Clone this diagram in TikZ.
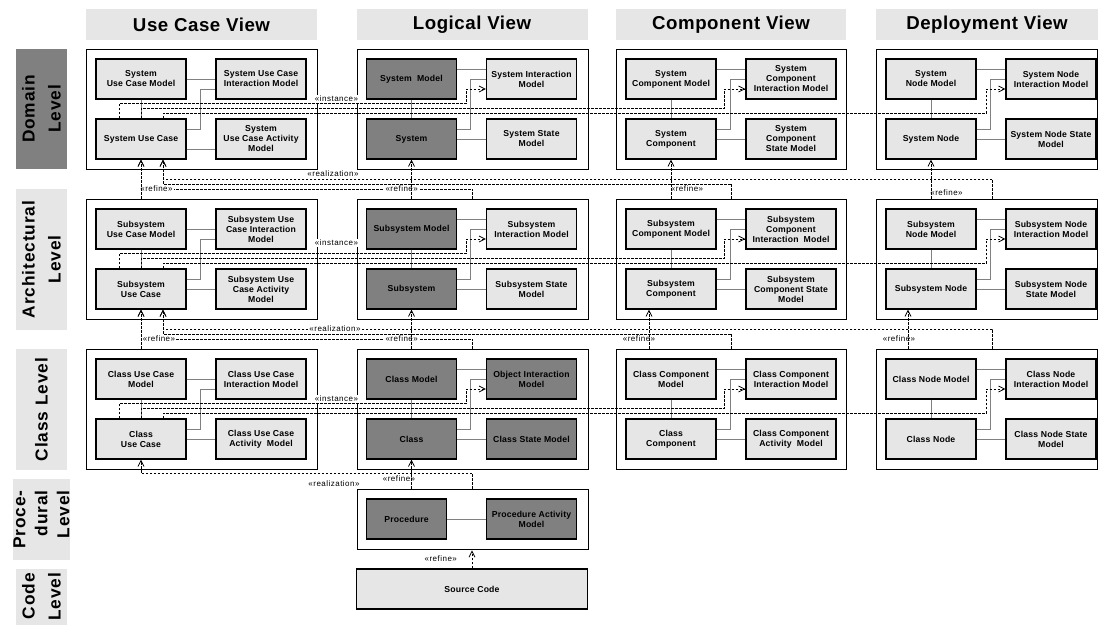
\documentclass[tikz,border=0pt]{standalone}
\usepackage{fontspec}
\setmainfont{Liberation Sans}
\newfontfamily\boxfont[LetterSpace=2]{Liberation Sans}
\newfontfamily\tagfont[LetterSpace=6]{Liberation Sans}
\newfontfamily\headfont[LetterSpace=3]{Liberation Sans}
\newfontfamily\levelfont[LetterSpace=5]{Liberation Sans}
\usetikzlibrary{arrows.meta,calc}

\definecolor{lightbox}{HTML}{E6E6E6}
\definecolor{darkbox}{HTML}{808080}
\definecolor{linkgray}{HTML}{808080}

\begin{document}
\begin{tikzpicture}[x=0.75pt, y=-0.75pt, >={Straight Barb[length=4.5pt,width=4.5pt]},
    head/.style={fill=lightbox, minimum height=23.25pt, inner sep=0pt, font=\headfont\bfseries\fontsize{14}{16}\selectfont},
    level/.style={rotate=90, fill=lightbox, minimum height=38.25pt, inner sep=0pt, align=center, font=\levelfont\bfseries\fontsize{13}{19.5}\selectfont},
    frame/.style={draw, line width=1pt, fill=white, anchor=north west, minimum height=90pt, inner sep=0pt},
    box/.style={draw, line width=0.9pt, fill=lightbox, minimum width=67.5pt, minimum height=30pt, inner sep=1pt, align=center, font=\boxfont\bfseries\fontsize{6.5}{7.5}\selectfont},
    dbox/.style={box, fill=darkbox},
    link/.style={draw=linkgray, line width=0.75pt},
    dep/.style={draw, line width=0.6pt, dash pattern=on 2pt off 1pt},
    tag/.style={fill=white, inner sep=1pt, font=\tagfont\fontsize{6}{7}\selectfont}]

    \useasboundingbox (0,0) rectangle (1098,625);
    \fill[white] (0,0) rectangle (1098,625);

    % View headers
    \node[head, minimum width=173.25pt] (hd-uc) at (201.5,24.5) {Use Case View};
    \node[head, minimum width=173.25pt] (hd-lg) at (472,24.5) {Logical View};
    \node[head, minimum width=172.5pt] (hd-cp) at (731,24.5) {Component View};
    \node[head, minimum width=166.5pt] (hd-dp) at (987,24.5) {Deployment View};

    % Level labels
    \node[level, fill=darkbox, minimum width=90pt] (lv-d) at (41.5,109) {Domain\\Level};
    \node[level, minimum width=105.75pt] (lv-a) at (41.5,259.5) {Architectural\\Level};
    \node[level, minimum width=90.75pt] (lv-c) at (41.5,409.5) {Class Level};
    \node[level, minimum width=60.75pt, align=right, font=\levelfont\bfseries\fontsize{13}{16.5}\selectfont] (lv-p) at (41.5,519.5) {Proce-\\dural\\Level};
    \node[level, minimum width=42pt, align=right] (lv-s) at (41.5,597) {Code\\Level};

    % Frames
    \foreach \f/\X/\Y/\W in {ucd/86/49/173.25, lgd/356.5/49/173.25, cpd/616/49/172.5, dpd/876/49/165.75,
                             uca/86/199/173.25, lga/356.5/199/173.25, cpa/616/199/172.5, dpa/876/199/165.75,
                             ucc/86/349/173.25, lgc/356.5/349/173.25, cpc/616/349/172.5, dpc/876/349/165.75}
        \node[frame, minimum width=\W pt] (\f) at (\X,\Y) {};
    \node[frame, minimum width=173.25pt, minimum height=45pt] (lgp) at (356.5,489) {};

    % Domain level
    \node[box] (ucd-tl) at (141,79) {System\\Use Case Model};
    \node[box] (ucd-tr) at (261,79) {System Use Case\\Interaction Model};
    \node[box] (ucd-bl) at (141,139) {System Use Case};
    \node[box] (ucd-br) at (261,139) {System\\Use Case Activity\\Model};
    \node[dbox] (lgd-tl) at (411.5,79) {System\ \ Model};
    \node[box] (lgd-tr) at (531.5,79) {System Interaction\\Model};
    \node[dbox] (lgd-bl) at (411.5,139) {System};
    \node[box] (lgd-br) at (531.5,139) {System State\\Model};
    \node[box] (cpd-tl) at (671,79) {System\\Component Model};
    \node[box] (cpd-tr) at (791,79) {System\\Component\\Interaction Model};
    \node[box] (cpd-bl) at (671,139) {System\\Component};
    \node[box] (cpd-br) at (791,139) {System\\Component\\State Model};
    \node[box] (dpd-tl) at (931,79) {System\\Node Model};
    \node[box] (dpd-tr) at (1051,79) {System Node\\Interaction Model};
    \node[box] (dpd-bl) at (931,139) {System Node};
    \node[box] (dpd-br) at (1051,139) {System Node State\\Model};

    % Architectural level
    \node[box] (uca-tl) at (141,229) {Subsystem\\Use Case Model};
    \node[box] (uca-tr) at (261,229) {Subsystem Use\\Case Interaction\\Model};
    \node[box] (uca-bl) at (141,289) {Subsystem\\Use Case};
    \node[box] (uca-br) at (261,289) {Subsystem Use\\Case Activity\\Model};
    \node[dbox] (lga-tl) at (411.5,229) {Subsystem Model};
    \node[box] (lga-tr) at (531.5,229) {Subsystem\\Interaction Model};
    \node[dbox] (lga-bl) at (411.5,289) {Subsystem};
    \node[box] (lga-br) at (531.5,289) {Subsystem State\\Model};
    \node[box] (cpa-tl) at (671,229) {Subsystem\\Component Model};
    \node[box] (cpa-tr) at (791,229) {Subsystem\\Component\\Interaction\ \ Model};
    \node[box] (cpa-bl) at (671,289) {Subsystem\\Component};
    \node[box] (cpa-br) at (791,289) {Subsystem\\Component State\\Model};
    \node[box] (dpa-tl) at (931,229) {Subsystem\\Node Model};
    \node[box] (dpa-tr) at (1051,229) {Subsystem Node\\Interaction Model};
    \node[box] (dpa-bl) at (931,289) {Subsystem Node};
    \node[box] (dpa-br) at (1051,289) {Subsystem Node\\State Model};

    % Class level
    \node[box] (ucc-tl) at (141,379) {Class Use Case\\Model};
    \node[box] (ucc-tr) at (261,379) {Class Use Case\\Interaction Model};
    \node[box] (ucc-bl) at (141,439) {Class\\Use Case};
    \node[box] (ucc-br) at (261,439) {Class Use Case\\Activity\ \ Model};
    \node[dbox] (lgc-tl) at (411.5,379) {Class Model};
    \node[dbox] (lgc-tr) at (531.5,379) {Object Interaction\\Model};
    \node[dbox] (lgc-bl) at (411.5,439) {Class};
    \node[dbox] (lgc-br) at (531.5,439) {Class State Model};
    \node[box] (cpc-tl) at (671,379) {Class Component\\Model};
    \node[box] (cpc-tr) at (791,379) {Class Component\\Interaction Model};
    \node[box] (cpc-bl) at (671,439) {Class\\Component};
    \node[box] (cpc-br) at (791,439) {Class Component\\Activity\ \ Model};
    \node[box] (dpc-tl) at (931,379) {Class Node Model};
    \node[box] (dpc-tr) at (1051,379) {Class Node\\Interaction Model};
    \node[box] (dpc-bl) at (931,439) {Class Node};
    \node[box] (dpc-br) at (1051,439) {Class Node State\\Model};

    % Procedural and code level
    \node[dbox, minimum width=60pt] (lgp-l) at (406.5,519) {Procedure};
    \node[dbox] (lgp-r) at (531.5,519) {Procedure Activity\\Model};
    \node[box, minimum width=173.25pt] (src) at (472,589) {Source Code};

    % Links inside the frames
    \foreach \f/\s in {ucd/-7.5pt, uca/0pt, ucc/0pt} {
        \draw[link] (\f-tl) -- (\f-tr);
        \draw[link] (\f-tl) -- (\f-bl);
        \draw[link] ([yshift=7.5pt]\f-bl.east) -| ([xshift=-11.25pt,yshift=-7.5pt]\f-tr.west) -- ([yshift=-7.5pt]\f-tr.west);
        \draw[link] ([yshift=\s]\f-bl.east) -- ([yshift=\s]\f-br.west);
    }
    \foreach \f in {lgd,cpd,dpd,lga,cpa,dpa,lgc,cpc,dpc} {
        \draw[link] ([yshift=7.5pt]\f-tl.east) -- ([yshift=7.5pt]\f-tr.west);
        \draw[link] (\f-tl) -- (\f-bl);
        \draw[link] ([yshift=7.5pt]\f-bl.east) -| ([xshift=-11.25pt]\f-tr.west) -- (\f-tr.west);
        \draw[link] (\f-bl) -- (\f-br);
    }
    \draw[link] (lgp-l) -- (lgp-r);

    % <<instance>> dependencies
    \foreach \r in {d,a,c} {
        \draw[dep,->] ([xshift=-16.5pt]uc\r-bl.north) -- ++(0,-15) -| ([xshift=-14.85pt,yshift=-7.5pt]lg\r-tr.west) -- ([yshift=-7.5pt]lg\r-tr.west);
        \draw[dep,->] (uc\r-bl.north) -- ++(0,-10) -| ([xshift=-15.75pt,yshift=-7.5pt]cp\r-tr.west) -- ([yshift=-7.5pt]cp\r-tr.west);
        \draw[dep,->] ([xshift=16.5pt]uc\r-bl.north) -- ++(0,-5) -| ([xshift=-14.5pt,yshift=-7.5pt]dp\r-tr.west) -- ([yshift=-7.5pt]dp\r-tr.west);
    }

    % <<realization>> and <<refine>> between the levels
    \draw[dep,->] (lga.north) -- ++(0,-10) -| (ucd-bl.south);
    \draw[dep,->] (cpa.north) -- ++(0,-15) -| ([xshift=16.5pt]ucd-bl.south);
    \draw[dep,->] ([xshift=3.9pt]dpa.north) -- ++(0,-20) -| ([xshift=16.5pt]ucd-bl.south);
    \draw[dep,->] (lgc.north) -- ++(0,-10) -| (uca-bl.south);
    \draw[dep,->] (cpc.north) -- ++(0,-15) -| ([xshift=16.5pt]uca-bl.south);
    \draw[dep,->] ([xshift=3.9pt]dpc.north) -- ++(0,-20) -| ([xshift=16.5pt]uca-bl.south);
    \draw[dep,->] (lgp.north) -- ++(0,-15.5) -| (ucc-bl.south);

    % Labels
    \node[tag] (inst-d) at (336.5,99) {«instance»};
    \node[tag] (inst-a) at (336.5,243) {«instance»};
    \node[tag] (inst-c) at (336.5,399) {«instance»};
    \node[tag] (real-d) at (333,174) {«realization»};
    \node[tag] (real-a) at (335,329) {«realization»};
    \node[tag] (real-c) at (334,484) {«realization»};
    \node[tag] (ref-ucd) at (156.5,189) {«refine»};
    \node[tag] (ref-lgd) at (401.7,189) {«refine»};
    \node[tag] (ref-cpd) at (687,189) {«refine»};
    \node[tag] (ref-dpd) at (946.5,193) {«refine»};
    \node[tag] (ref-uca) at (159,339) {«refine»};
    \node[tag] (ref-lga) at (401.7,339) {«refine»};
    \node[tag] (ref-cpa) at (639,339) {«refine»};
    \node[tag] (ref-dpa) at (899,339) {«refine»};
    \node[tag] (ref-lgc) at (399,479) {«refine»};
    \node[tag] (ref-lgp) at (440.8,559) {«refine»};

    % <<refine>> arrows
    \draw[dep,->] (uca-tl |- uca.north) -- (ucd-bl.south);
    \draw[dep,->] (lgd-bl |- lga.north) -- (lgd-bl.south);
    \draw[dep,->] (cpd-bl |- cpa.north) -- (cpd-bl.south);
    \draw[dep,->] (dpd-bl |- dpa.north) -- (dpd-bl.south);
    \draw[dep,->] (ucc-tl |- ucc.north) -- (uca-bl.south);
    \draw[dep,->] (lga-bl |- lgc.north) -- (lga-bl.south);
    \draw[dep,->] (cpa-bl |- cpc.north) ++(-22,0) -- ([xshift=-16.5pt]cpa-bl.south);
    \draw[dep,->] (dpa-bl |- dpc.north) ++(-23,0) -- ([xshift=-17.25pt]dpa-bl.south);
    \draw[dep,->] (lgc-bl |- lgp.north) -- (lgc-bl.south);
    \draw[dep,->] (src.north) -- (src.north |- lgp.south);
\end{tikzpicture}
\end{document}
